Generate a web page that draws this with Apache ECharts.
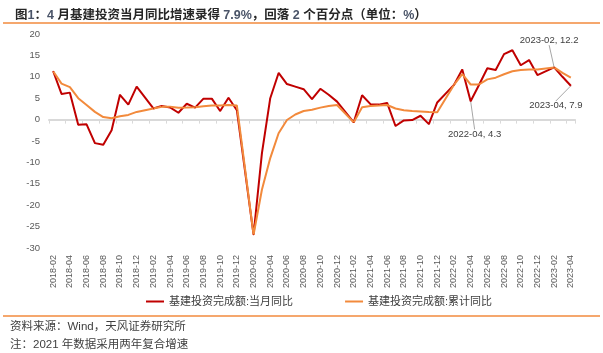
<!DOCTYPE html>
<html>
<head>
<meta charset="utf-8" />
<title>基建投资当月同比</title>
<style type="text/css">
  html, body {margin:0;padding:0;background:#fff;}
  #chart {width:603px;height:353px;}
</style>
</head>
<body>
<div id="chart"></div>
<script src="https://cdn.jsdelivr.net/npm/echarts@6/dist/echarts.min.js"></script>
<script type="text/javascript">
// 横轴月份
const months = [
  '2018-02','2018-03','2018-04','2018-05','2018-06','2018-07','2018-08','2018-09','2018-10','2018-11','2018-12',
  '2019-01','2019-02','2019-03','2019-04','2019-05','2019-06','2019-07','2019-08','2019-09','2019-10','2019-11','2019-12',
  '2020-01','2020-02','2020-03','2020-04','2020-05','2020-06','2020-07','2020-08','2020-09','2020-10','2020-11','2020-12',
  '2021-01','2021-02','2021-03','2021-04','2021-05','2021-06','2021-07','2021-08','2021-09','2021-10','2021-11','2021-12',
  '2022-01','2022-02','2022-03','2022-04','2022-05','2022-06','2022-07','2022-08','2022-09','2022-10','2022-11','2022-12',
  '2023-01','2023-02','2023-03','2023-04'
];
// 基建投资完成额:当月同比
const monthlyYoY = [
  11.3, 6.0, 6.3, -1.2, -1.1, -5.5, -5.9, -2.5, 5.8, 3.5, 7.7,
  null, 2.6, 3.2, 2.85, 1.6, 3.7, 2.8, 4.9, 4.9, 2.0, 5.1, 2.2,
  null, -26.9, -7.9, 5.0, 10.9, 8.3, 7.7, 7.1, 4.8, 7.2, 5.8, 4.2,
  null, -0.65, 5.7, 3.6, 3.5, 3.9, -1.5, -0.2, -0.1, 0.9, -1.05, 4.0,
  null, 8.1, 11.7, 4.3, 8.1, 12.0, 11.6, 15.3, 16.2, 12.7, 13.9, 10.4,
  null, 12.2, 10.0, 7.9
];
// 基建投资完成额:累计同比
const cumulativeYoY = [
  11.3, 8.4, 7.6, 5.0, 3.4, 1.8, 0.6, 0.3, 0.8, 1.1, 1.8,
  null, 2.6, 3.0, 3.0, 2.75, 2.8, 2.9, 3.1, 3.3, 3.3, 3.4, 3.3,
  null, -26.9, -16.4, -9.0, -3.2, -0.1, 1.2, 2.0, 2.3, 2.8, 3.2, 3.4,
  null, -0.65, 2.9, 3.2, 3.3, 3.4, 2.6, 2.2, 2.0, 1.9, 1.75, 1.7,
  null, 8.1, 10.6, 8.2, 8.2, 9.4, 9.8, 10.6, 11.3, 11.6, 11.7, 11.7,
  null, 12.2, 10.9, 9.8
];
// 纵轴刻度
const yTicks = [-30, -25, -20, -15, -10, -5, 0, 5, 10, 15, 20];
// 标注的月份
const notedMonths = ['2022-04', '2023-02', '2023-04'];
// 标注文字偏移（样式）
const noteOffset = {
  '2022-04': [4, 33],
  '2023-02': [-5, -27],
  '2023-04': [-15, 20]
};

const RED = '#C00000';
const ORANGE = '#F28A3C';
const FONT = '"Liberation Sans", "Noto Sans CJK SC", sans-serif';

const chart = echarts.init(document.getElementById('chart'));

const redData = monthlyYoY.map((v, i) => {
  if (notedMonths.indexOf(months[i]) >= 0) {
    return {
      value: v,
      label: {show: true},
      labelLine: {show: true, lineStyle: {color: '#A6A6A6', width: 1}}
    };
  }
  return v;
});

const option = {
  animation: false,
  textStyle: {fontFamily: FONT},
  title: {
    left: 10,
    top: 4,
    text: '{b|图}{n|1}{b|：}{n|4 }{b|月基建投资当月同比增速录得 }{n|7.9%}{b|，回落 }{n|2 }{b|个百分点（单位：}{n|%}{b|）}',
    textStyle: {
      rich: {
        b: {fontSize: 12.5, fontWeight: 'bold', color: '#262626', fontFamily: FONT},
        n: {fontSize: 12.5, color: '#4a5468', fontFamily: FONT}
      }
    }
  },
  grid: {left: 49, right: 28, top: 34, bottom: 105},
  legend: {
    left: 141,
    top: 291,
    itemGap: 52,
    itemWidth: 18,
    itemHeight: 2,
    icon: 'rect',
    textStyle: {fontSize: 11, color: '#404040', fontFamily: FONT},
    data: ['基建投资完成额:当月同比', '基建投资完成额:累计同比']
  },
  xAxis: [{
    type: 'category',
    data: months,
    position: 'bottom',
    boundaryGap: true,
    axisLine: {show: false, onZero: false},
    axisTick: {show: false},
    axisLabel: {interval: 1, rotate: 90, fontSize: 9, color: '#595959', margin: 7}
  }, {
    type: 'category',
    data: months,
    position: 'top',
    boundaryGap: true,
    axisLine: {show: true, onZero: true, lineStyle: {color: '#D9D9D9', width: 2}},
    axisTick: {show: true, inside: true, interval: 1, length: 4, lineStyle: {color: '#D9D9D9'}},
    axisLabel: {show: false}
  }],
  yAxis: {
    type: 'value',
    min: yTicks[0],
    max: yTicks[yTicks.length - 1],
    interval: yTicks[1] - yTicks[0],
    axisLine: {show: false},
    axisTick: {show: false},
    splitLine: {show: false},
    axisLabel: {fontSize: 9.5, color: '#595959', margin: 9}
  },
  series: [{
    name: '基建投资完成额:当月同比',
    type: 'line',
    xAxisIndex: 0,
    data: redData,
    connectNulls: true,
    symbol: 'circle',
    symbolSize: 1,
    showSymbol: true,
    color: RED,
    lineStyle: {color: RED, width: 2},
    label: {
      show: false,
      position: 'inside',
      fontSize: 9.5,
      color: '#404040',
      formatter: '{b}, {c}'
    },
    labelLayout: function (p) {
      const off = noteOffset[months[p.dataIndex]];
      return off ? {dx: off[0], dy: off[1]} : {};
    }
  }, {
    name: '基建投资完成额:累计同比',
    type: 'line',
    xAxisIndex: 0,
    data: cumulativeYoY,
    connectNulls: true,
    showSymbol: false,
    color: ORANGE,
    lineStyle: {color: ORANGE, width: 2}
  }],
  graphic: [
    {type: 'line', shape: {x1: 3, y1: 23, x2: 600, y2: 23}, style: {stroke: ORANGE, lineWidth: 1.5}},
    {type: 'line', shape: {x1: 3, y1: 316, x2: 600, y2: 316}, style: {stroke: ORANGE, lineWidth: 1.5}},
    {type: 'text', left: 10, top: 321, style: {text: '资料来源：Wind，天风证券研究所', fill: '#404040', font: '11.5px ' + FONT}},
    {type: 'text', left: 10, top: 339, style: {text: '注：2021 年数据采用两年复合增速', fill: '#404040', font: '11.5px ' + FONT}}
  ]
};

chart.setOption(option);
</script>
</body>
</html>
